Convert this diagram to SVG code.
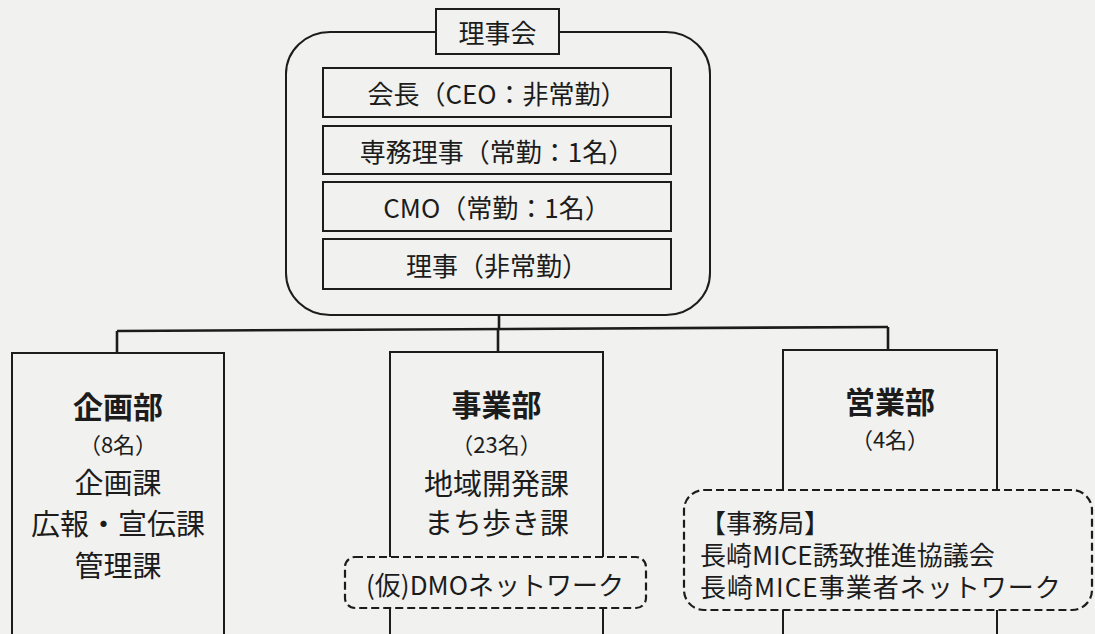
<svg xmlns="http://www.w3.org/2000/svg" width="1095" height="634" viewBox="0 0 1095 634">
<style>
.bx{fill:#f1f1ef;stroke:#1c1c1c;stroke-width:2}
.dash{fill:#f1f1ef;stroke:#1c1c1c;stroke-width:2.2;stroke-dasharray:8 4}
.ln{fill:none;stroke:#1c1c1c;stroke-width:2.6}
text{font-family:"Noto Sans CJK JP","Noto Sans",sans-serif;fill:#1c1c1c;dominant-baseline:central}
.c{text-anchor:middle}
.t{font-size:26px}
.h{font-size:30px;font-weight:700}
.s{font-size:22px}
.m{font-size:29px}
.n{font-size:26px}
</style>
<rect x="0" y="0" width="1095" height="634" fill="#f1f1ef"/>
<g id="connectors">
<path class="ln" d="M499 315 V329"/>
<path class="ln" d="M117 331 L888 327" stroke-width="3"/>
<path class="ln" d="M117 331 V353"/>
<path class="ln" d="M498 329 V352"/>
<path class="ln" d="M888 327 V350"/>
</g>
<g id="board">
<rect class="bx" x="286" y="32" width="424" height="283" rx="44" ry="42"/>
<rect class="bx" x="436" y="9" width="123" height="45"/>
<text class="c t" x="497.5" y="31">理事会</text>
</g>
<g id="chair">
<rect class="bx" x="323" y="68" width="348" height="49"/>
<text class="c t" x="497" y="92">会長（CEO：非常勤）</text>
</g>
<g id="director">
<rect class="bx" x="323" y="126" width="348" height="48"/>
<text class="c t" x="497" y="150">専務理事（常勤：1名）</text>
</g>
<g id="cmo">
<rect class="bx" x="323" y="182" width="348" height="49"/>
<text class="c t" x="497" y="206">CMO（常勤：1名）</text>
</g>
<g id="members">
<rect class="bx" x="323" y="239" width="348" height="50"/>
<text class="c t" x="497" y="264">理事（非常勤）</text>
</g>
<g id="kikaku">
<rect class="bx" x="12" y="353" width="212" height="300"/>
<text class="c h" x="118" y="405">企画部</text>
<text class="c s" x="118" y="443">（8名）</text>
<text class="c m" x="118" y="481">企画課</text>
<text class="c m" x="118" y="522">広報・宣伝課</text>
<text class="c m" x="118" y="564">管理課</text>
</g>
<g id="jigyo">
<rect class="bx" x="390" y="352" width="213" height="300"/>
<text class="c h" x="496.5" y="403">事業部</text>
<text class="c s" x="496.5" y="443">（23名）</text>
<text class="c m" x="496.5" y="482">地域開発課</text>
<text class="c m" x="496.5" y="521">まち歩き課</text>
</g>
<g id="dmo">
<rect class="dash" x="345" y="557" width="301" height="51" rx="10"/>
<text class="c n" x="495" y="583">(仮)DMOネットワーク</text>
</g>
<g id="eigyo">
<rect class="bx" x="783" y="350" width="214" height="300"/>
<text class="c h" x="890" y="400">営業部</text>
<text class="c s" x="890" y="438">（4名）</text>
</g>
<g id="mice">
<rect class="dash" x="684" y="490" width="408" height="120" rx="20"/>
<text class="n"><tspan x="700" y="521">【事務局】</tspan><tspan x="700" y="553">長崎MICE誘致推進協議会</tspan><tspan x="700" y="585" letter-spacing="1">長崎MICE事業者ネットワーク</tspan></text>
</g>
</svg>
